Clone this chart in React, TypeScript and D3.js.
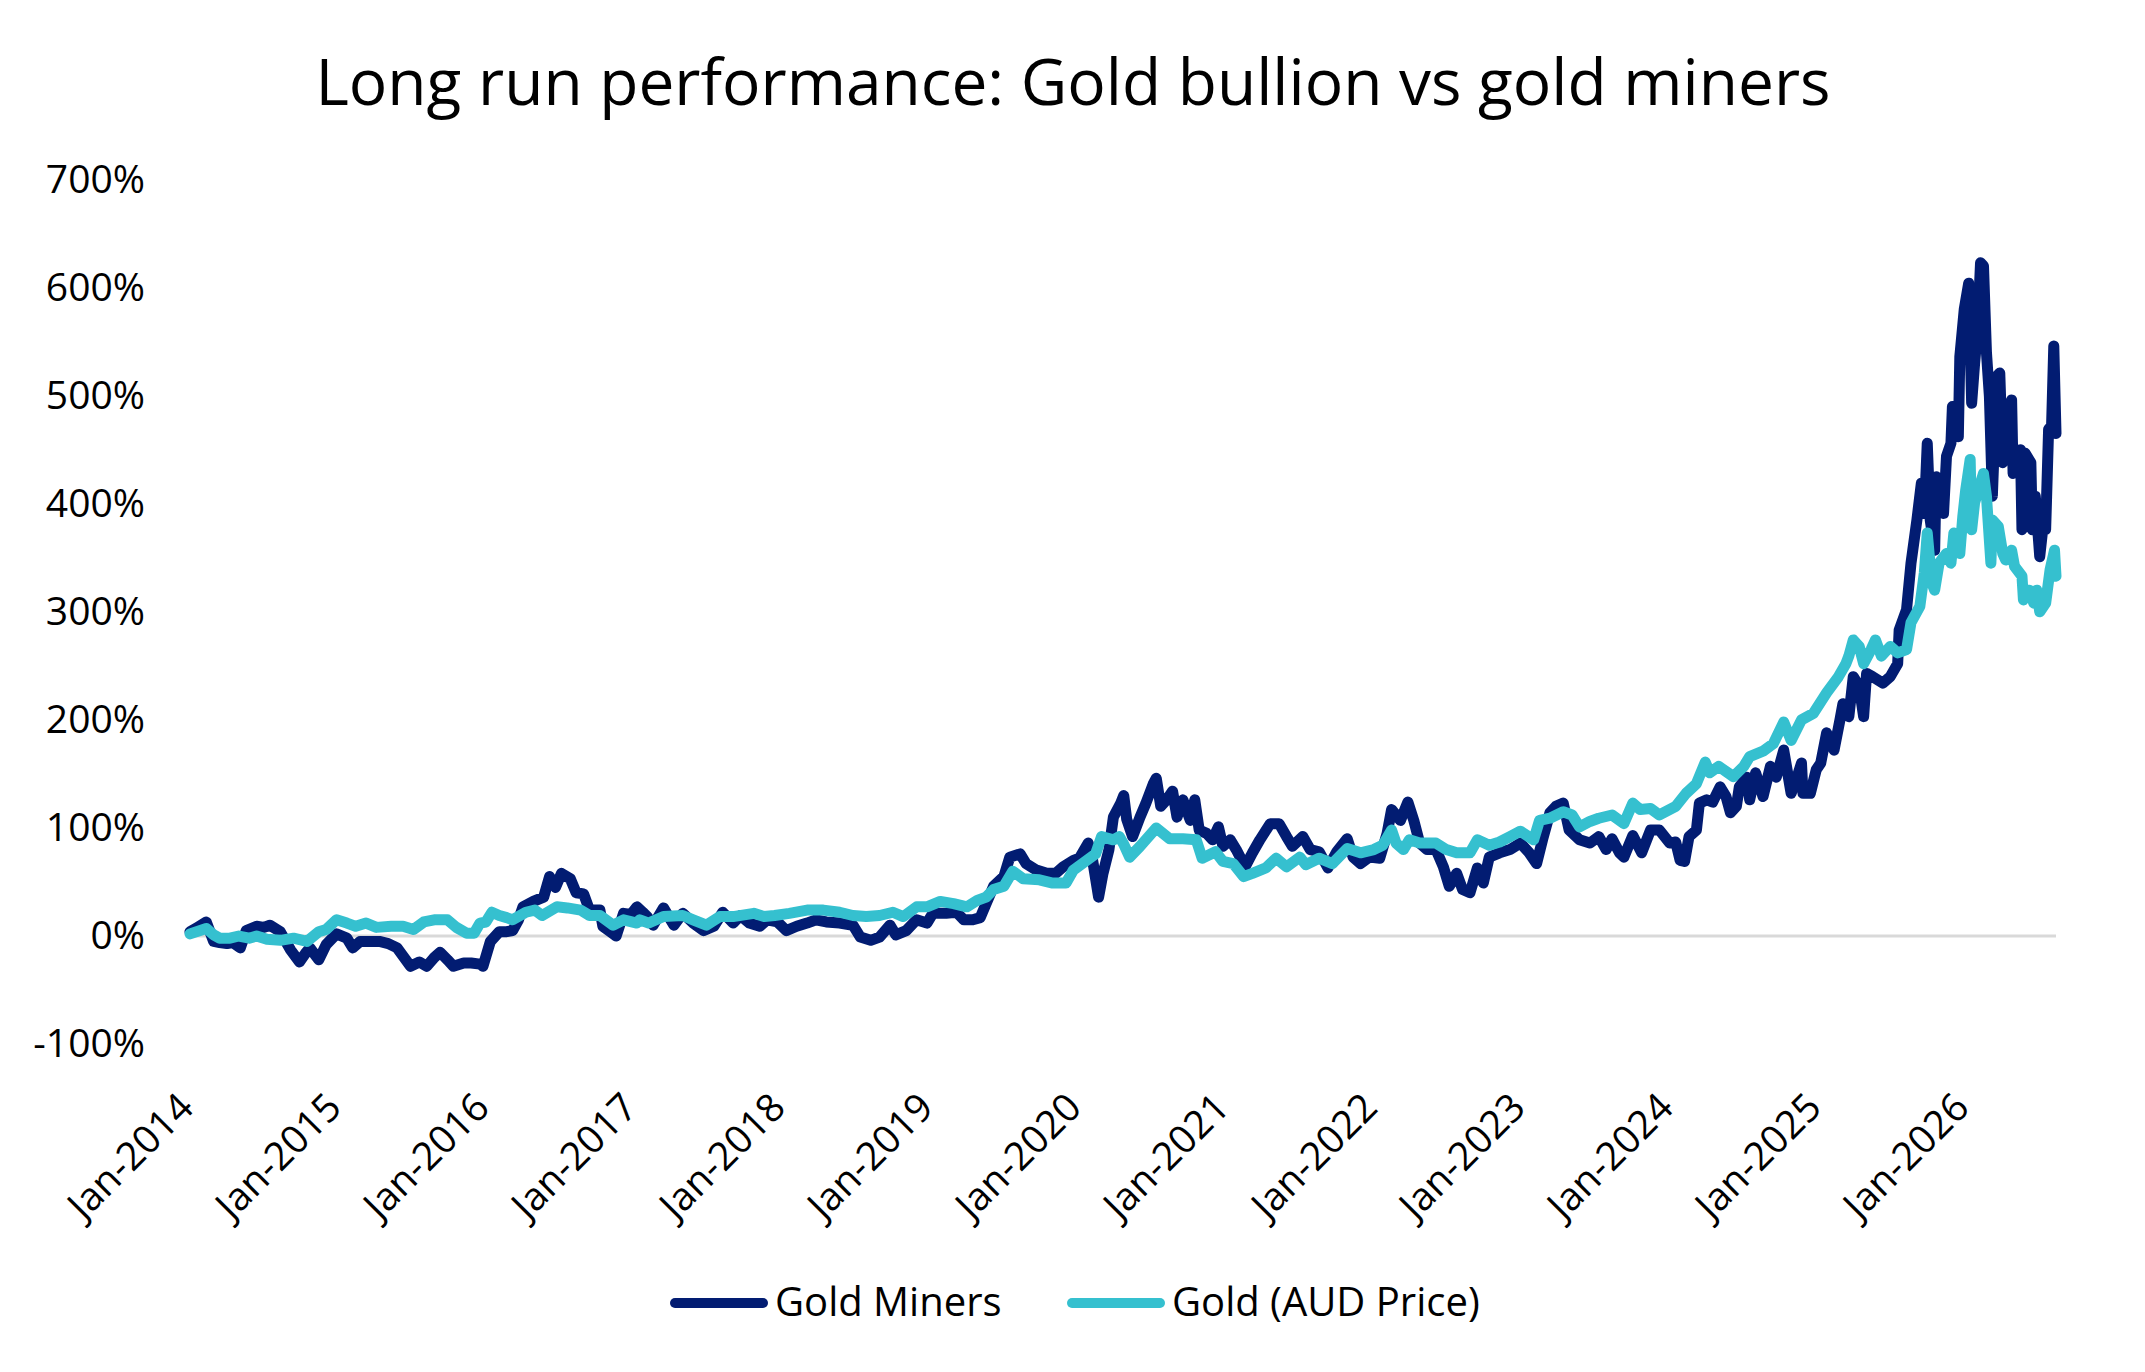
import React from "react";
import * as d3 from "d3";

// Years since Jan-2014, cumulative performance (%)
const goldMiners: [number, number][] = [
  [0.00, 4], [0.05, 8], [0.11, 13], [0.16, -5], [0.20, -6], [0.25, -7], [0.29, -6], [0.34, -11],
  [0.38, 5], [0.45, 9], [0.50, 8], [0.54, 10], [0.61, 4], [0.68, -13], [0.74, -24], [0.78, -16],
  [0.81, -11], [0.87, -22], [0.92, -8], [0.99, 2], [1.06, -2], [1.10, -11], [1.15, -5], [1.22, -5],
  [1.28, -5], [1.34, -7], [1.40, -11], [1.49, -28], [1.55, -24], [1.60, -28], [1.65, -20], [1.69, -15],
  [1.74, -22], [1.78, -28], [1.85, -25], [1.90, -25], [1.96, -26], [1.98, -28], [2.03, -5], [2.09, 4],
  [2.14, 4], [2.18, 5], [2.22, 15], [2.25, 27], [2.32, 32], [2.39, 36], [2.43, 55], [2.47, 45],
  [2.51, 58], [2.57, 53], [2.61, 40], [2.66, 39], [2.70, 24], [2.77, 24], [2.79, 9], [2.86, 2],
  [2.88, 0], [2.93, 21], [2.98, 20], [3.02, 27], [3.06, 22], [3.09, 18], [3.13, 10], [3.20, 26],
  [3.27, 10], [3.33, 21], [3.40, 12], [3.47, 5], [3.54, 9], [3.60, 22], [3.67, 12], [3.72, 19],
  [3.78, 12], [3.85, 9], [3.90, 15], [3.97, 13], [4.03, 5], [4.10, 9], [4.17, 12], [4.23, 15],
  [4.30, 13], [4.39, 12], [4.48, 10], [4.53, -1], [4.60, -4], [4.66, -1], [4.73, 10], [4.77, 1],
  [4.84, 5], [4.91, 15], [4.98, 12], [5.02, 21], [5.11, 21], [5.18, 22], [5.23, 15], [5.29, 15],
  [5.34, 17], [5.38, 30], [5.43, 46], [5.50, 55], [5.54, 73], [5.61, 76], [5.65, 67], [5.72, 61],
  [5.79, 58], [5.85, 58], [5.90, 64], [5.97, 70], [6.01, 72], [6.07, 86], [6.10, 70], [6.14, 36],
  [6.17, 58], [6.21, 80], [6.24, 110], [6.29, 123], [6.31, 130], [6.33, 108], [6.37, 92], [6.42, 110],
  [6.46, 123], [6.51, 141], [6.53, 146], [6.56, 120], [6.60, 126], [6.64, 134], [6.67, 110], [6.71, 126],
  [6.76, 107], [6.79, 126], [6.82, 98], [6.87, 95], [6.91, 89], [6.95, 101], [6.98, 83], [7.03, 89],
  [7.07, 80], [7.13, 64], [7.18, 77], [7.23, 89], [7.30, 104], [7.36, 104], [7.41, 92], [7.45, 83],
  [7.52, 92], [7.57, 80], [7.63, 78], [7.69, 63], [7.75, 78], [7.82, 90], [7.86, 73], [7.91, 67],
  [7.97, 73], [8.04, 72], [8.09, 95], [8.12, 117], [8.18, 107], [8.23, 124], [8.27, 107], [8.31, 86],
  [8.36, 80], [8.42, 80], [8.47, 64], [8.51, 46], [8.56, 58], [8.60, 43], [8.65, 40], [8.70, 63],
  [8.74, 49], [8.78, 73], [8.85, 77], [8.92, 80], [8.99, 86], [9.05, 77], [9.10, 67], [9.14, 89],
  [9.19, 114], [9.23, 120], [9.28, 123], [9.32, 98], [9.39, 89], [9.46, 86], [9.52, 92], [9.57, 80],
  [9.61, 90], [9.66, 77], [9.69, 73], [9.75, 93], [9.81, 77], [9.87, 98], [9.93, 98], [10.00, 86],
  [10.04, 87], [10.07, 70], [10.10, 69], [10.13, 92], [10.18, 98], [10.20, 123], [10.25, 126], [10.29, 124],
  [10.34, 138], [10.38, 129], [10.41, 114], [10.45, 120], [10.47, 138], [10.52, 147], [10.54, 126], [10.58, 151],
  [10.63, 129], [10.68, 157], [10.72, 147], [10.77, 172], [10.82, 132], [10.86, 147], [10.89, 160], [10.90, 132],
  [10.95, 132], [10.99, 154], [11.02, 160], [11.06, 188], [11.11, 172], [11.15, 200], [11.17, 215], [11.21, 203],
  [11.24, 240], [11.28, 231], [11.31, 203], [11.33, 243], [11.37, 240], [11.44, 234], [11.49, 240], [11.54, 252],
  [11.55, 283], [11.60, 302], [11.63, 345], [11.67, 385], [11.70, 419], [11.72, 391], [11.74, 456], [11.76, 385],
  [11.79, 357], [11.80, 425], [11.85, 391], [11.87, 444], [11.90, 456], [11.91, 490], [11.95, 462], [11.96, 536],
  [11.99, 580], [12.02, 604], [12.04, 493], [12.06, 530], [12.08, 561], [12.10, 623], [12.12, 620], [12.14, 540],
  [12.16, 499], [12.18, 407], [12.21, 518], [12.23, 521], [12.25, 438], [12.27, 484], [12.31, 496], [12.32, 428],
  [12.37, 450], [12.38, 376], [12.40, 447], [12.44, 438], [12.45, 376], [12.47, 407], [12.50, 351], [12.52, 376],
  [12.54, 376], [12.56, 469], [12.58, 472], [12.595, 546], [12.61, 465],
];

const goldAud: [number, number][] = [
  [0.00, 2], [0.11, 7], [0.16, 1], [0.20, -2], [0.27, -2], [0.33, 0], [0.40, -2], [0.45, 0],
  [0.52, -3], [0.61, -4], [0.70, -2], [0.79, -5], [0.87, 4], [0.92, 6], [0.99, 15], [1.06, 12],
  [1.12, 9], [1.19, 12], [1.26, 8], [1.36, 9], [1.44, 9], [1.51, 6], [1.58, 13], [1.65, 15],
  [1.74, 15], [1.80, 8], [1.87, 2.5], [1.92, 2.5], [1.96, 12], [2.00, 13], [2.04, 22], [2.09, 19],
  [2.14, 17], [2.18, 15], [2.27, 22], [2.33, 24], [2.38, 19], [2.48, 27], [2.55, 26], [2.64, 24],
  [2.70, 19], [2.77, 19], [2.86, 10], [2.93, 15], [3.02, 12], [3.04, 15], [3.10, 12], [3.20, 18],
  [3.33, 19], [3.40, 15], [3.49, 10], [3.58, 18], [3.67, 18], [3.81, 21], [3.88, 18], [3.95, 19],
  [4.05, 21], [4.17, 24], [4.28, 24], [4.39, 22], [4.48, 19], [4.57, 18], [4.66, 19], [4.75, 22],
  [4.82, 18], [4.91, 27], [4.98, 27], [5.07, 32], [5.16, 30], [5.25, 27], [5.32, 33], [5.38, 36],
  [5.43, 43], [5.50, 46], [5.56, 60], [5.63, 53], [5.74, 52], [5.83, 49], [5.92, 49], [5.97, 61],
  [6.06, 70], [6.12, 76], [6.16, 92], [6.24, 89], [6.28, 92], [6.31, 85], [6.35, 73], [6.42, 83],
  [6.53, 100], [6.62, 90], [6.71, 90], [6.80, 89], [6.84, 72], [6.93, 78], [6.98, 69], [7.05, 67],
  [7.12, 55], [7.18, 58], [7.27, 63], [7.34, 72], [7.41, 64], [7.50, 73], [7.54, 66], [7.63, 72],
  [7.72, 67], [7.82, 81], [7.91, 77], [8.00, 80], [8.06, 84], [8.12, 98], [8.15, 86], [8.20, 80],
  [8.24, 89], [8.31, 86], [8.42, 86], [8.49, 80], [8.56, 77], [8.65, 77], [8.70, 89], [8.78, 84],
  [8.85, 87], [8.92, 92], [8.99, 97], [9.08, 89], [9.12, 107], [9.19, 109], [9.28, 115], [9.34, 112],
  [9.39, 101], [9.46, 106], [9.52, 109], [9.61, 112], [9.69, 104], [9.75, 123], [9.80, 117], [9.87, 118],
  [9.93, 112], [10.04, 120], [10.11, 132], [10.18, 141], [10.24, 161], [10.27, 151], [10.33, 157], [10.43, 147.5],
  [10.50, 157], [10.54, 166], [10.63, 171], [10.70, 178], [10.77, 198], [10.82, 181], [10.89, 200], [10.97, 206],
  [11.06, 225], [11.14, 240], [11.19, 252], [11.21, 259], [11.24, 274], [11.28, 268], [11.31, 252], [11.36, 265],
  [11.39, 274], [11.43, 259], [11.49, 268], [11.54, 262], [11.60, 265], [11.63, 290], [11.69, 305], [11.72, 336],
  [11.74, 373], [11.77, 327], [11.79, 320], [11.82, 345], [11.87, 354], [11.90, 345], [11.92, 373], [11.96, 354],
  [11.98, 388], [12.00, 413], [12.03, 441], [12.04, 376], [12.06, 401], [12.10, 419], [12.12, 428], [12.14, 407],
  [12.17, 345], [12.18, 385], [12.22, 379], [12.25, 354], [12.27, 348], [12.31, 357], [12.33, 342], [12.38, 333],
  [12.39, 311], [12.43, 320], [12.46, 308], [12.48, 320], [12.50, 300], [12.54, 308], [12.57, 339], [12.60, 357],
  [12.61, 333],
];

const yTicks = [-100, 0, 100, 200, 300, 400, 500, 600, 700];
const xTickYears = [2014, 2015, 2016, 2017, 2018, 2019, 2020, 2021, 2022, 2023, 2024, 2025, 2026];
const seriesNames = ["Gold Miners", "Gold (AUD Price)"];
const seriesColors = ["#021C72", "#35C0CF"];
const titleText = "Long run performance: Gold bullion vs gold miners";

const FONT = "'Open Sans', 'Noto Sans', Arial, sans-serif";

export default function App() {
  const W = 2145;
  const H = 1372;
  const x = d3.scaleLinear().domain([0, 12.61]).range([190, 2056]);
  const y = d3.scaleLinear().domain([-100, 700]).range([1044.1, 179.5]);
  const line = d3
    .line<[number, number]>()
    .x((d) => x(d[0]))
    .y((d) => y(d[1]));

  const series = [goldMiners, goldAud];

  return (
    <div style={{ position: "absolute", left: 0, top: 0, width: W, height: H, background: "#fff" }}>
      <svg width={W} height={H} viewBox={`0 0 ${W} ${H}`} style={{ display: "block" }}>
        <rect x={0} y={0} width={W} height={H} fill="#fff" />
        <text
          x={1073}
          y={105}
          textAnchor="middle"
          fontFamily={FONT}
          fontSize={64}
          fill="#000"
        >
          {titleText}
        </text>

        {yTicks.map((v) => (
          <text
            key={v}
            x={145}
            y={y(v) + 13}
            textAnchor="end"
            fontFamily={FONT}
            fontSize={39}
            fill="#000"
          >
            {`${v}%`}
          </text>
        ))}

        <line x1={x(0)} x2={x(12.61)} y1={y(0)} y2={y(0)} stroke="#D9D9D9" strokeWidth={3} />

        {xTickYears.map((yr) => {
          const px = x(yr - 2014);
          return (
            <text
              key={yr}
              transform={`translate(${px - 4},${1100}) rotate(-45)`}
              textAnchor="end"
              dy="0.35em"
              fontFamily={FONT}
              fontSize={39}
              fill="#000"
            >
              {`Jan-${yr}`}
            </text>
          );
        })}

        {series.map((s, i) => (
          <path
            key={i}
            d={line(s) || ""}
            fill="none"
            stroke={seriesColors[i]}
            strokeWidth={11}
            strokeLinejoin="round"
            strokeLinecap="round"
          />
        ))}

        {seriesNames.map((name, i) => {
          const lx = i === 0 ? 675 : 1072;
          return (
            <g key={name}>
              <line
                x1={lx}
                x2={lx + 88}
                y1={1303}
                y2={1303}
                stroke={seriesColors[i]}
                strokeWidth={10}
                strokeLinecap="round"
              />
              <text x={lx + 100} y={1316} fontFamily={FONT} fontSize={40} fill="#000">
                {name}
              </text>
            </g>
          );
        })}
      </svg>
    </div>
  );
}
